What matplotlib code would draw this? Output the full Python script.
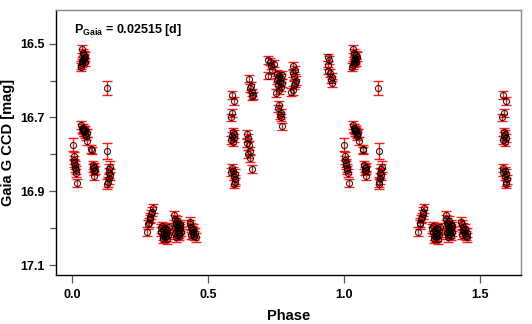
import matplotlib
matplotlib.use("Agg")
import matplotlib.pyplot as plt
from matplotlib.ticker import MultipleLocator
import numpy as np

plt.rcParams['font.family'] = ['Liberation Sans', 'DejaVu Sans']
plt.rcParams['mathtext.fontset'] = 'custom'
plt.rcParams['mathtext.bf'] = 'Liberation Sans:bold'
plt.rcParams['mathtext.rm'] = 'Liberation Sans'

## folded light curve, phase in [0, 1)
phase = [
    # max, near 0.03
    0.030, 0.032, 0.034, 0.036, 0.038, 0.040, 0.042, 0.044, 0.046, 0.048, 0.037, 0.041,
    0.033, 0.036, 0.038, 0.040, 0.043, 0.045, 0.047, 0.050, 0.052, 0.055, 0.042,
    0.002, 0.004, 0.006, 0.007, 0.009, 0.010, 0.012, 0.014, 0.018,
    0.070, 0.071, 0.074, 0.077, 0.080, 0.079, 0.082, 0.081,
    0.127, 0.129,
    0.140, 0.136, 0.133, 0.138, 0.134, 0.131, 0.129,
    # minimum
    0.296, 0.292, 0.290, 0.287, 0.284, 0.282, 0.279, 0.274,
    0.325, 0.328, 0.330, 0.333, 0.335, 0.338, 0.340, 0.342, 0.345, 0.347, 0.350, 0.352, 0.355, 0.332, 0.344,
    0.375, 0.378, 0.380, 0.382, 0.384, 0.386, 0.388, 0.390, 0.392, 0.394, 0.396, 0.398, 0.400, 0.383,
    0.387, 0.391, 0.379, 0.395, 0.385, 0.389,
    0.432, 0.435, 0.438, 0.440, 0.443, 0.446, 0.449, 0.452, 0.455, 0.445, 0.437,
    # rise
    0.588, 0.596, 0.589, 0.584,
    0.590, 0.594, 0.589, 0.596, 0.586, 0.592,
    0.588, 0.592, 0.586, 0.598, 0.595, 0.600, 0.599, 0.597,
    0.652, 0.658, 0.655, 0.661, 0.667, 0.663,
    0.645, 0.648, 0.643, 0.650, 0.655, 0.648, 0.653, 0.661,
    0.722, 0.728, 0.741, 0.732, 0.735, 0.722,
    0.755, 0.761, 0.767, 0.752, 0.764, 0.773, 0.757, 0.767, 0.761, 0.749, 0.771, 0.757,
    0.761, 0.759, 0.767, 0.763, 0.770, 0.771,
    0.814, 0.820, 0.814, 0.816, 0.823, 0.820, 0.816, 0.811, 0.807,
    0.943, 0.947, 0.940, 0.943, 0.949, 0.955, 0.951, 0.958,
]
mag = [
    16.564, 16.558, 16.514, 16.548, 16.525, 16.545, 16.538, 16.530, 16.550, 16.535, 16.553, 16.542,
    16.720, 16.730, 16.728, 16.735, 16.740, 16.735, 16.745, 16.750, 16.742, 16.765, 16.738,
    16.774, 16.805, 16.815, 16.823, 16.830, 16.836, 16.842, 16.850, 16.877,
    16.786, 16.789, 16.830, 16.838, 16.835, 16.845, 16.842, 16.858,
    16.620, 16.790,
    16.833, 16.840, 16.850, 16.855, 16.865, 16.875, 16.880,
    16.946, 16.955, 16.962, 16.970, 16.975, 16.985, 16.990, 17.010,
    17.000, 17.010, 16.995, 17.020, 17.005, 17.015, 17.025, 17.000, 17.012, 17.030, 17.005, 17.018, 16.998, 17.028, 17.022,
    16.965, 16.975, 16.985, 16.990, 16.995, 17.000, 17.005, 17.010, 17.015, 17.020, 17.000, 16.995, 17.010, 17.025,
    16.980, 17.005, 17.012, 16.990, 17.018, 16.998,
    16.982, 16.990, 16.998, 17.005, 17.010, 17.015, 17.020, 17.012, 17.025, 17.002, 17.018,
    16.639, 16.655, 16.688, 16.700,
    16.740, 16.745, 16.750, 16.755, 16.762, 16.766,
    16.838, 16.845, 16.848, 16.852, 16.858, 16.868, 16.875, 16.880,
    16.595, 16.615, 16.620, 16.632, 16.640, 16.643,
    16.744, 16.755, 16.770, 16.776, 16.790, 16.800, 16.810, 16.840,
    16.544, 16.549, 16.554, 16.560, 16.572, 16.587,
    16.583, 16.589, 16.594, 16.598, 16.603, 16.607, 16.611, 16.618, 16.625, 16.634, 16.586, 16.594,
    16.666, 16.675, 16.688, 16.694, 16.700, 16.724,
    16.560, 16.571, 16.580, 16.587, 16.600, 16.606, 16.613, 16.627, 16.630,
    16.537, 16.544, 16.558, 16.573, 16.580, 16.590, 16.598, 16.607,
]
mag_err = [
    0.011, 0.011, 0.011, 0.011, 0.011, 0.011, 0.011, 0.011, 0.011, 0.011, 0.011, 0.011,
    0.011, 0.011, 0.011, 0.011, 0.011, 0.011, 0.011, 0.011, 0.011, 0.011, 0.011,
    0.018, 0.011, 0.011, 0.011, 0.011, 0.011, 0.011, 0.011, 0.011,
    0.010, 0.010, 0.011, 0.011, 0.011, 0.011, 0.011, 0.011,
    0.020, 0.022,
    0.014, 0.014, 0.014, 0.014, 0.014, 0.014, 0.014,
    0.012, 0.012, 0.012, 0.012, 0.012, 0.012, 0.012, 0.012,
    0.012, 0.012, 0.012, 0.012, 0.012, 0.012, 0.012, 0.012, 0.012, 0.012, 0.012, 0.012, 0.012, 0.012, 0.012,
    0.012, 0.012, 0.012, 0.012, 0.012, 0.012, 0.012, 0.012, 0.012, 0.012, 0.012, 0.012, 0.012, 0.012,
    0.012, 0.012, 0.012, 0.012, 0.012, 0.012,
    0.012, 0.012, 0.012, 0.012, 0.012, 0.012, 0.012, 0.012, 0.012, 0.012, 0.012,
    0.010, 0.010, 0.010, 0.010,
    0.011, 0.011, 0.011, 0.011, 0.011, 0.011,
    0.011, 0.011, 0.011, 0.011, 0.011, 0.011, 0.011, 0.011,
    0.010, 0.010, 0.010, 0.010, 0.010, 0.010,
    0.011, 0.011, 0.011, 0.011, 0.011, 0.011, 0.011, 0.011,
    0.010, 0.010, 0.010, 0.010, 0.010, 0.010,
    0.011, 0.011, 0.011, 0.011, 0.011, 0.011, 0.011, 0.011, 0.011, 0.011, 0.011, 0.011,
    0.010, 0.010, 0.010, 0.010, 0.010, 0.010,
    0.011, 0.011, 0.011, 0.011, 0.011, 0.011, 0.011, 0.011, 0.011,
    0.010, 0.010, 0.010, 0.010, 0.010, 0.010, 0.010, 0.010,
]

period_label = r'$\mathbf{P_{Gaia}}$' + ' = 0.02515 [d]'
phase_max = 1.6

ph = np.array(phase)
mg = np.array(mag)
er = np.array(mag_err)

# second cycle, only up to phase 1.6
keep = ph + 1 <= phase_max
ph_all = np.concatenate([ph, ph[keep] + 1])
mg_all = np.concatenate([mg, mg[keep]])
er_all = np.concatenate([er, er[keep]])

fig = plt.figure(figsize=(5.32, 3.24), dpi=100)
ax = fig.add_axes([0.105, 0.151, 0.875, 0.817])

ax.errorbar(ph_all, mg_all, yerr=er_all, fmt='none', ecolor='red', elinewidth=1.0,
            capsize=3.4, capthick=1.0, alpha=0.9, zorder=2)
ax.plot(ph_all, mg_all, 'o', mfc='none', mec='black', ms=4.4, mew=0.8, alpha=0.85, zorder=3)

ax.set_xlim(-0.061, 1.654)
ax.set_ylim(17.127, 16.41)

ax.yaxis.set_minor_locator(MultipleLocator(0.1))
ax.set_yticks([16.5, 16.7, 16.9, 17.1])
ax.set_yticklabels(['16.5', '16.7', '16.9', '17.1'])
ax.set_xticks([0.0, 0.5, 1.0, 1.5])
ax.set_xticklabels(['0.0', '0.5', '1.0', '1.5'])

ax.tick_params(axis='both', which='major', direction='out', length=5, width=0.9,
               color='#555555', labelsize=9, pad=3)
ax.tick_params(axis='y', which='minor', direction='out', length=4, width=0.9, color='#555555')
ax.tick_params(axis='x', which='major', length=6, pad=4)
for lab in ax.get_xticklabels() + ax.get_yticklabels():
    lab.set_fontweight('bold')

for side in ['top', 'right']:
    ax.spines[side].set_color('#888888')
    ax.spines[side].set_linewidth(1.0)
for side in ['left', 'bottom']:
    ax.spines[side].set_color('black')
    ax.spines[side].set_linewidth(1.0)

ax.set_xlabel('Phase', fontsize=10.5, fontweight='bold', labelpad=6)
ax.set_ylabel('Gaia G CCD [mag]', fontsize=10.5, fontweight='bold', labelpad=4)

ax.text(0.04, 0.955, period_label, transform=ax.transAxes, fontsize=9,
        fontweight='bold', ha='left', va='top')

fig.savefig('out.png', dpi=100)
